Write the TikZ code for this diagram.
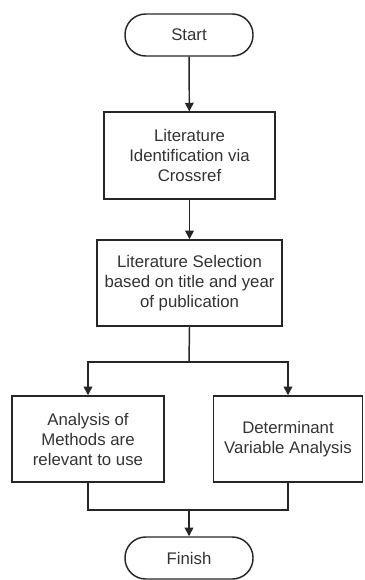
\documentclass[tikz,border=0pt]{standalone}
\usepackage{fontspec}
\setmainfont{Liberation Sans}
\usetikzlibrary{arrows.meta}
\begin{document}
\begin{tikzpicture}[x=0.75pt,y=-0.75pt,
  base/.style={draw=black!85, line width=1.1pt, align=center, inner sep=0pt,
    font=\fontsize{12.6}{15}\selectfont, text=black!80},
  term/.style={base, minimum width=96pt, minimum height=31.5pt, rounded corners=15.5pt},
  procbox/.style={base, rectangle},
  arr/.style={draw=black!85, line width=1.1pt, -{Triangle[length=6.5pt,width=6.5pt]}},
  ln/.style={draw=black!85, line width=1.1pt}]
\useasboundingbox (0,0) rectangle (364,580);
\node[term] (start) at (189,35) {Start};
\node[procbox, minimum width=128pt, minimum height=65pt] (b1) at (189.5,155.5) {Literature\\Identification via\\Crossref};
\node[procbox, minimum width=139pt, minimum height=64.5pt] (b2) at (189.5,283) {Literature Selection\\based on title and year\\of publication};
\node[procbox, minimum width=114pt, minimum height=64.5pt] (L) at (88,439) {Analysis of\\Methods are\\relevant to use};
\node[procbox, minimum width=112pt, minimum height=64.5pt] (R) at (288,439) {Determinant\\Variable Analysis};
\node[term] (fin) at (189,558) {Finish};
\coordinate (j1) at (189,362);
\coordinate (j2) at (189,510);
\draw[arr] (start) -- (b1);
\draw[arr] (b1) -- (b2);
\draw[ln] (b2.south) -- (j1);
\draw[arr] (j1) -| (L.north);
\draw[arr] (j1) -| (R.north);
\draw[ln] (L.south) |- (j2) -| (R.south);
\draw[arr] (j2) -- (fin);
\end{tikzpicture}
\end{document}
